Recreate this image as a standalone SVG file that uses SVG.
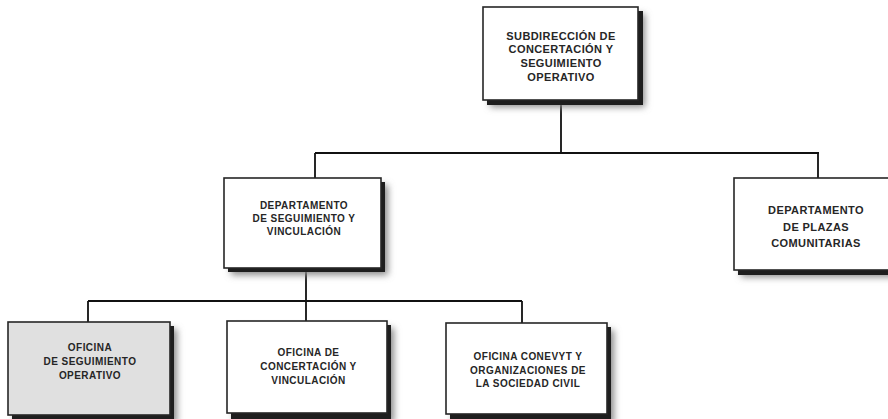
<svg xmlns="http://www.w3.org/2000/svg" width="888" height="419" viewBox="0 0 888 419">
<defs>
<filter id="blur" x="-20%" y="-20%" width="140%" height="140%"><feGaussianBlur stdDeviation="3.5"/></filter>
<style>
.soft{fill:#8a8a8a;filter:url(#blur);}
.band{fill:#1e1e1e;}
.box{fill:#ffffff;stroke:#262626;stroke-width:1.6;}
.gray{fill:#e0e0e0;}
.t{font-family:"Liberation Sans",Arial,sans-serif;font-weight:bold;fill:#262626;text-anchor:middle;font-size:10px;letter-spacing:0.45px;}
.big{font-size:11px;letter-spacing:0.4px;}
.conn{stroke:#111;stroke-width:1.8;fill:none;}
</style>
</defs>
<g id="connectors">
<path class="conn" d="M561,105 V153 M315,153 H819 M315,153 V178 M818,153 V178"/>
<path class="conn" d="M306,272 V321 M88,301 H522 M88,301 V322 M522,301 V323"/>
</g>
<g id="n-subdireccion">
<rect class="soft" x="490" y="14" width="155" height="93"/>
<rect class="band" x="487" y="11" width="156" height="94"/>
<rect class="box" x="483" y="7" width="155" height="93"/>
<text class="t big" x="561" y="39.5">SUBDIRECCIÓN DE</text>
<text class="t big" x="561" y="53.2">CONCERTACIÓN Y</text>
<text class="t big" x="561" y="66.9">SEGUIMIENTO</text>
<text class="t big" x="561" y="80.6">OPERATIVO</text>
</g>
<g id="n-depto-seguimiento">
<rect class="soft" x="231" y="185" width="157" height="90"/>
<rect class="band" x="228" y="182" width="157" height="90"/>
<rect class="box" x="224" y="178" width="157" height="90"/>
<text class="t" x="304" y="209">DEPARTAMENTO</text>
<text class="t" x="304" y="222">DE SEGUIMIENTO Y</text>
<text class="t" x="304" y="235">VINCULACIÓN</text>
</g>
<g id="n-depto-plazas">
<rect class="soft" x="741" y="185" width="160" height="92"/>
<rect class="band" x="738" y="182" width="160" height="93"/>
<rect class="box" x="734" y="178" width="160" height="92"/>
<text class="t big" x="816" y="214.3">DEPARTAMENTO</text>
<text class="t big" x="816" y="230.8">DE PLAZAS</text>
<text class="t big" x="816" y="246.5">COMUNITARIAS</text>
</g>
<g id="n-oficina-seguimiento">
<rect class="soft" x="15" y="329" width="162" height="95"/>
<rect class="band" x="12" y="326" width="162" height="95"/>
<rect class="box gray" x="8" y="322" width="162" height="93"/>
<text class="t" x="90" y="351">OFICINA</text>
<text class="t" x="90" y="365">DE SEGUIMIENTO</text>
<text class="t" x="90" y="379">OPERATIVO</text>
</g>
<g id="n-oficina-concertacion">
<rect class="soft" x="234" y="328" width="160" height="95"/>
<rect class="band" x="231" y="325" width="160" height="95"/>
<rect class="box" x="227" y="321" width="160" height="92"/>
<text class="t" x="308.5" y="355.5">OFICINA DE</text>
<text class="t" x="308.5" y="369.8">CONCERTACIÓN Y</text>
<text class="t" x="308.5" y="384">VINCULACIÓN</text>
</g>
<g id="n-oficina-conevyt">
<rect class="soft" x="453" y="330" width="161" height="95"/>
<rect class="band" x="450" y="327" width="161" height="95"/>
<rect class="box" x="446" y="323" width="161" height="91"/>
<text class="t" x="528" y="360">OFICINA CONEVYT Y</text>
<text class="t" x="528" y="373.5">ORGANIZACIONES DE</text>
<text class="t" x="528" y="387">LA SOCIEDAD CIVIL</text>
</g>
</svg>
